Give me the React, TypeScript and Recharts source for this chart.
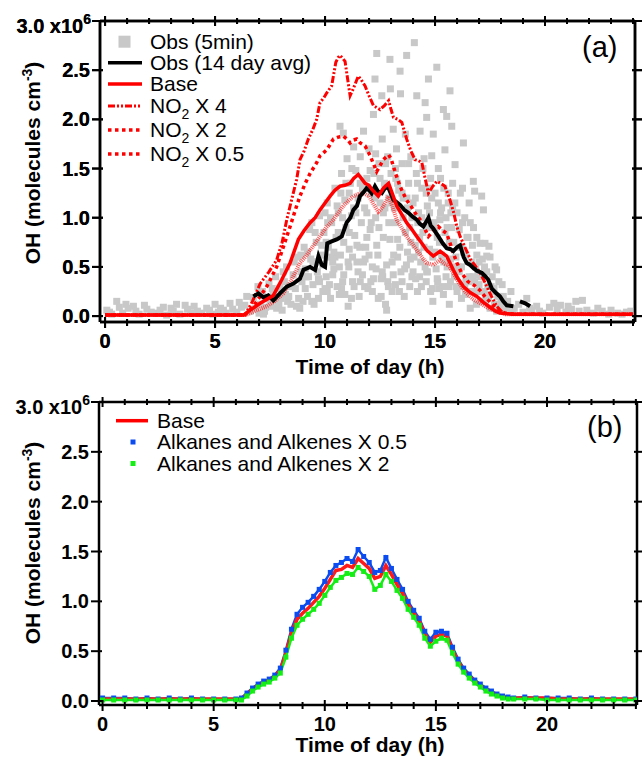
import React from 'react';
import { ComposedChart, Line, XAxis, YAxis } from 'recharts';

const FONT = '"Liberation Sans", Arial, Helvetica, sans-serif';

// x ticks every hour, labels every 5 h; y ticks every 0.5 x10^6
const hourTicks = [0, 1, 2, 3, 4, 5, 6, 7, 8, 9, 10, 11, 12, 13, 14, 15, 16, 17, 18, 19, 20, 21, 22, 23, 24];
const ohTicks = [0, 0.5, 1.0, 1.5, 2.0, 2.5, 3.0];

// ---- panel (a) ----
// Obs (5min), OH in 10^6 molecules cm-3
const obsTime = [
  0.08, 0.3, 0.53, 0.8, 1.05, 1.29, 1.55, 1.79, 2.1, 2.5, 2.8, 3.1, 3.4, 3.64, 3.9, 4.2, 4.62, 4.9, 5.15, 5.38, 5.68, 5.99, 6.2, 6.44, 6.6,
  6.74, 6.85, 6.95, 7.05, 7.15, 7.25, 7.35, 7.45, 7.55, 7.65, 7.75, 7.85, 7.95, 8.05, 8.15, 8.25, 8.35, 8.45, 8.55, 8.65, 8.75, 8.85, 8.95,
  9.05, 9.1, 9.2, 9.3, 9.35, 9.45, 9.5, 9.6, 9.65, 9.75, 9.8, 9.9, 9.95,
  10.05, 10.1, 10.15, 10.25, 10.3, 10.35, 10.45, 10.5, 10.55, 10.6, 10.68, 10.7, 10.75, 10.83, 10.85, 10.9, 10.95,
  11.0, 11.05, 11.1, 11.15, 11.2, 11.25, 11.3, 11.35, 11.4, 11.45, 11.5, 11.55, 11.6, 11.65, 11.7, 11.75, 11.8, 11.85, 11.9, 11.95,
  12.0, 12.05, 12.1, 12.15, 12.2, 12.27, 12.3, 12.35, 12.4, 12.42, 12.45, 12.5, 12.55, 12.58, 12.6, 12.65, 12.7, 12.75, 12.8, 12.85, 12.9, 12.95, 12.97,
  13.0, 13.05, 13.1, 13.15, 13.2, 13.25, 13.3, 13.35, 13.41, 13.43, 13.45, 13.5, 13.55, 13.6, 13.65, 13.71, 13.75, 13.8, 13.85, 13.9, 13.95,
  14.0, 14.06, 14.1, 14.15, 14.17, 14.2, 14.25, 14.32, 14.35, 14.4, 14.45, 14.5, 14.55, 14.6, 14.62, 14.65, 14.7, 14.75, 14.8, 14.85, 14.9, 14.92, 14.95,
  15.0, 15.05, 15.08, 15.1, 15.15, 15.2, 15.25, 15.3, 15.38, 15.4, 15.45, 15.5, 15.53, 15.55, 15.6, 15.65, 15.68, 15.7, 15.76, 15.8, 15.85, 15.91, 15.95,
  16.0, 16.05, 16.1, 16.15, 16.2, 16.29, 16.3, 16.35, 16.4, 16.5, 16.55, 16.6, 16.65, 16.74, 16.75, 16.8, 16.85, 16.9, 16.95,
  17.05, 17.1, 17.12, 17.2, 17.25, 17.27, 17.35, 17.4, 17.45, 17.5, 17.6, 17.73, 17.8, 17.85, 17.95,
  18.05, 18.2, 18.3, 18.45, 18.6, 18.8, 19.0, 19.17, 19.4, 19.62, 19.9, 20.2, 20.4, 20.7, 20.95, 21.2, 21.4, 21.7, 21.9, 22.2, 22.6, 22.9, 23.3, 23.7,
];
const obsOH = [
  0.06, 0.02, 0.15, 0.03, 0.08, 0.10, 0.02, 0.11, 0.04, 0.06, 0.01, 0.05, 0.02, 0.11, 0.03, 0.05, 0.08, 0.02, 0.04, 0.06, 0.13, 0.04, 0.09, 0.20, 0.05,
  0.19, 0.08, 0.30, 0.12, 0.25, 0.05, 0.18, 0.33, 0.10, 0.22, 0.40, 0.15, 0.28, 0.06, 0.35, 0.50, 0.20, 0.12, 0.42, 0.28, 0.60, 0.08, 0.35,
  0.70, 0.48, 0.20, 0.88, 0.58, 0.32, 0.12, 0.75, 0.45, 1.02, 0.62, 0.25, 0.85,
  0.40, 1.15, 0.70, 0.18, 0.95, 0.55, 1.30, 0.80, 0.30, 1.05, 1.93, 0.62, 1.45, 1.86, 0.42, 1.18, 0.90,
  1.60, 0.10, 0.68, 1.35, 1.02, 0.35, 1.72, 0.82, 1.48, 0.55, 1.20, 0.20, 1.62, 0.95, 0.42, 1.88, 1.10, 0.70, 1.40, 0.28,
  1.70, 0.88, 1.25, 0.50, 2.05, 2.41, 1.00, 2.67, 0.62, 0.18, 1.55, 1.15, 0.38, 2.24, 1.80, 0.80, 1.35, 0.12, 0.06, 1.62, 0.95, 2.61, 2.31,
  1.45, 0.55, 1.90, 1.10, 0.32, 1.70, 0.78, 1.28, 2.49, 2.26, 0.45, 1.55, 1.00, 0.20, 1.85, 2.65, 0.65, 1.35, 0.90, 1.62, 0.40,
  1.15, 2.78, 0.72, 1.45, 2.24, 0.25, 1.05, 1.88, 0.55, 1.30, 0.85, 1.60, 2.17, 0.35, 2.02, 1.12, 2.41, 0.68, 1.40, 1.63, 0.15, 1.85, 0.95,
  1.25, 0.48, 2.53, 0.80, 1.50, 0.28, 1.05, 0.62, 2.10, 1.30, 1.69, 0.40, 2.03, 0.90, 1.15, 0.12, 2.29, 0.58, 1.93, 1.35, 0.75, 1.54, 0.30,
  1.05, 0.50, 0.88, 1.25, 0.18, 1.76, 0.65, 1.00, 0.35, 0.80, 1.15, 0.08, 0.55, 1.37, 0.90, 1.27, 0.25, 0.62, 0.42,
  0.74, 0.15, 1.22, 1.08, 0.50, 0.74, 0.61, 0.30, 0.71, 0.08, 0.40, 0.50, 0.47, 0.20, 0.10,
  0.32, 0.05, 0.15, 0.25, 0.08, 0.12, 0.04, 0.18, 0.06, 0.10, 0.03, 0.09, 0.13, 0.11, 0.04, 0.07, 0.15, 0.16, 0.06, 0.03, 0.05, 0.02, 0.03, 0.04,
];
// more 5-min points in the dense part of the cloud
const obsTime2 = [
  0.2, 0.65, 0.95, 1.4, 1.9, 2.3, 2.65, 3.0, 3.25, 3.75, 4.05, 4.4, 4.75, 5.0, 5.25, 5.5, 5.8, 6.1, 6.35,
  7.0, 7.3, 7.6, 7.9, 8.2, 8.5, 8.8, 9.15, 9.4, 9.7, 10.0, 10.2, 10.4, 10.65, 10.8, 11.08, 11.32, 11.58, 11.82, 12.08, 12.32, 12.62,
  12.88, 13.12, 13.38, 13.62, 13.88, 14.12, 14.38, 14.62, 14.88, 15.12, 15.38, 15.62, 15.88, 16.12, 16.38, 16.62, 16.88, 17.15, 17.42, 17.68,
  9.55, 10.12, 10.72, 11.22, 11.72, 12.22, 12.72, 13.22, 13.72, 14.22, 14.72, 15.22, 15.72, 16.22, 16.72, 17.3,
  18.15, 18.5, 19.3, 19.75, 20.55, 21.05, 21.55, 22.4, 23.0, 23.5, 23.9,
];
const obsOH2 = [
  0.04, 0.09, 0.12, 0.05, 0.07, 0.03, 0.09, 0.08, 0.12, 0.07, 0.10, 0.03, 0.06, 0.12, 0.08, 0.03, 0.07, 0.14, 0.11,
  0.03, 0.09, 0.28, 0.12, 0.22, 0.30, 0.18, 0.40, 0.15, 0.38, 0.28, 0.60, 0.48, 0.22, 0.35, 0.50, 0.30, 0.70, 0.58, 0.35, 0.48, 0.40,
  0.30, 0.62, 0.25, 0.48, 0.58, 0.38, 0.30, 0.45, 0.28, 0.35, 0.22, 0.30, 0.40, 0.30, 0.22, 0.35, 0.12, 0.25, 0.18, 0.28,
  0.55, 0.95, 1.25, 1.50, 1.30, 1.45, 1.10, 1.40, 1.20, 0.95, 1.30, 0.98, 1.05, 0.70, 0.40, 0.22,
  0.12, 0.05, 0.08, 0.05, 0.07, 0.10, 0.05, 0.08, 0.06, 0.02, 0.05,
];
const obsTime3 = [
  7.2, 7.5, 7.8, 8.0, 8.1, 8.3, 8.6, 8.9, 9.0, 9.25, 9.4, 9.7, 9.85, 10.0, 10.2, 10.4, 10.6, 10.8, 10.9, 11.1, 11.25, 11.4, 11.6, 11.7, 11.9,
  12.05, 12.15, 12.3, 12.45, 12.6, 12.75, 12.9, 13.05, 13.2, 13.3, 13.5, 13.65, 13.8, 13.95, 14.05, 14.2, 14.3, 14.45, 14.55, 14.7, 14.85,
  15.0, 15.15, 15.25, 15.4, 15.5, 15.65, 15.8, 15.95, 16.1, 16.25, 16.4, 16.55, 16.7, 16.85, 17.0, 17.15, 17.3, 17.55, 17.7, 17.9, 18.1, 18.35,
];
const obsOH3 = [
  0.02, 0.15, 0.08, 0.18, 0.45, 0.15, 0.55, 0.62, 0.15, 0.40, 0.95, 0.18, 0.72, 1.05, 0.32, 0.65, 0.85, 1.00, 0.22, 1.25, 0.60, 1.05, 0.35, 1.30, 0.80,
  1.48, 0.25, 1.65, 0.90, 0.45, 1.55, 1.20, 0.25, 1.50, 0.60, 1.25, 0.85, 1.55, 1.00, 0.60, 1.35, 0.80, 1.50, 0.50, 0.90, 1.20,
  0.65, 1.15, 1.40, 0.55, 1.00, 0.75, 1.10, 0.60, 0.45, 0.95, 0.62, 0.40, 0.72, 0.50, 0.32, 0.58, 0.15, 0.30, 0.12, 0.35, 0.20, 0.06,
];
const obsTime4 = [
  8.4, 8.7, 8.9, 9.1, 9.2, 9.45, 9.55, 9.75, 9.9, 10.05, 10.1, 10.25, 10.35, 10.45, 10.55, 10.65, 10.75, 10.85, 10.95, 11.05, 11.1, 11.2,
  11.3, 11.45, 11.5, 11.6, 11.75, 11.8, 11.9, 12.0, 12.1, 12.2, 12.25, 12.35, 12.5, 12.55, 12.65, 12.8, 12.85, 12.95, 13.0, 13.1, 13.2,
  13.3, 13.4, 13.5, 13.55, 13.7, 13.75, 13.85, 13.9, 14.0, 14.1, 14.25, 14.3, 14.4, 14.5, 14.6, 14.65, 14.75, 14.8, 14.9, 15.0, 15.1,
  15.2, 15.3, 15.35, 15.45, 15.55, 15.6, 15.7, 15.75, 15.85, 15.9, 16.0, 16.1, 16.2, 16.25, 16.35, 16.45, 16.6, 16.65, 16.8, 16.9,
  17.0, 17.1, 17.2, 17.35, 17.5, 17.65, 17.8, 18.0,
];
const obsOH4 = [
  0.30, 0.10, 0.45, 0.28, 0.65, 0.55, 0.85, 0.35, 0.52, 0.75, 0.25, 1.00, 0.42, 0.60, 1.12, 0.50, 0.28, 0.75, 1.35, 0.55, 0.85, 0.18,
  1.10, 0.72, 0.45, 1.35, 0.55, 0.30, 1.05, 0.62, 0.95, 0.38, 1.20, 0.72, 1.40, 0.20, 1.05, 0.52, 0.35, 0.78, 1.15, 0.42, 0.95,
  1.35, 0.70, 0.35, 1.20, 0.52, 1.10, 0.30, 0.75, 0.45, 1.20, 0.65, 0.40, 1.00, 0.70, 1.25, 0.45, 1.05, 0.25, 0.60, 0.90, 0.38,
  0.75, 1.10, 0.30, 0.85, 0.50, 1.25, 0.35, 0.90, 0.50, 1.15, 0.25, 0.70, 0.50, 1.30, 0.30, 0.80, 0.95, 0.25, 0.35, 0.80,
  0.55, 0.40, 0.25, 0.45, 0.60, 0.25, 0.05, 0.15,
];

// Obs (14 day avg); null marks the gap near 18.7 h
const avgTime = [
  6.74, 6.97, 7.2, 7.42, 7.65, 7.95, 8.26, 8.56, 8.86, 9.02, 9.32, 9.55, 9.7, 9.85, 10.0, 10.1, 10.3, 10.53, 10.76, 10.98, 11.15, 11.29, 11.45,
  11.59, 11.75, 11.89, 12.05, 12.12, 12.27, 12.4, 12.58, 12.75, 12.89, 13.11, 13.25, 13.41, 13.6, 13.79, 13.98, 14.17, 14.3, 14.47, 14.6, 14.7,
  14.8, 14.92, 15.15, 15.35, 15.53, 15.7, 15.83, 16.0, 16.14, 16.3, 16.44, 16.6, 16.74, 16.9, 17.12, 17.3, 17.42, 17.58, 17.75, 17.95, 18.1,
  18.26, 18.56, 18.7, 18.86, 19.1, 19.32,
];
const avgOH = [
  0.20, 0.23, 0.19, 0.21, 0.16, 0.23, 0.30, 0.33, 0.38, 0.47, 0.50, 0.47, 0.61, 0.52, 0.50, 0.74, 0.76, 0.78, 0.81, 0.95, 1.00, 1.08, 1.12,
  1.22, 1.26, 1.30, 1.27, 1.25, 1.32, 1.27, 1.25, 1.31, 1.30, 1.18, 1.16, 1.13, 1.08, 1.05, 1.01, 0.98, 0.94, 0.91, 0.96, 1.00,
  0.92, 0.89, 0.81, 0.74, 0.69, 0.68, 0.66, 0.70, 0.72, 0.60, 0.54, 0.52, 0.49, 0.46, 0.44, 0.40, 0.37, 0.28, 0.24, 0.20, 0.15,
  0.11, 0.10, null, 0.15, 0.13, 0.10,
];

const baseTime = [0, 6.29, 6.6, 7.05, 7.35, 7.65, 8.03, 8.41, 8.79, 9.05, 9.32, 9.55, 9.77, 10.0, 10.23, 10.45, 10.68, 10.9, 11.14, 11.3, 11.51, 11.65, 11.82, 12.0, 12.12, 12.42, 12.65, 12.89, 13.05, 13.26, 13.5, 13.71, 13.95, 14.17, 14.4, 14.62, 14.92, 15.23, 15.53, 15.83, 16.05, 16.29, 16.6, 16.9, 17.2, 17.5, 17.75, 17.95, 18.5, 24];
const baseOH = [0.01, 0.01, 0.06, 0.13, 0.17, 0.21, 0.37, 0.54, 0.78, 0.87, 0.95, 1.00, 1.08, 1.15, 1.22, 1.28, 1.32, 1.33, 1.35, 1.40, 1.44, 1.40, 1.35, 1.33, 1.29, 1.22, 1.30, 1.35, 1.25, 1.12, 1.03, 0.95, 0.88, 0.81, 0.74, 0.67, 0.61, 0.66, 0.61, 0.47, 0.38, 0.30, 0.24, 0.20, 0.14, 0.09, 0.05, 0.03, 0.02, 0.02];

const no2x4Time = [0, 6.36, 6.7, 7.05, 7.45, 7.8, 8.05, 8.26, 8.5, 8.71, 8.86, 9.05, 9.24, 9.45, 9.62, 9.77, 9.95, 10.08, 10.3, 10.49, 10.6, 10.68, 10.8, 10.91, 11.02, 11.14, 11.3, 11.51, 11.65, 11.82, 12.0, 12.2, 12.5, 12.7, 12.89, 13.0, 13.11, 13.3, 13.49, 13.71, 13.9, 14.09, 14.25, 14.4, 14.55, 14.7, 14.9, 15.08, 15.25, 15.45, 15.68, 15.85, 15.99, 16.14, 16.36, 16.6, 16.8, 17.05, 17.25, 17.5, 17.8, 18.1, 18.5, 24];
const no2x4OH = [0.01, 0.01, 0.15, 0.33, 0.45, 0.57, 0.75, 0.98, 1.20, 1.39, 1.59, 1.68, 1.80, 1.90, 2.00, 2.17, 2.22, 2.27, 2.34, 2.58, 2.63, 2.65, 2.62, 2.59, 2.42, 2.24, 2.32, 2.44, 2.40, 2.34, 2.24, 2.14, 2.10, 2.14, 2.19, 2.10, 2.02, 2.00, 1.97, 1.80, 1.68, 1.59, 1.58, 1.56, 1.40, 1.25, 1.32, 1.37, 1.35, 1.32, 1.18, 1.05, 0.91, 0.81, 0.70, 0.58, 0.52, 0.44, 0.35, 0.23, 0.10, 0.03, 0.02, 0.02];

const no2x2Time = [0, 6.35, 6.73, 7.05, 7.35, 7.8, 8.1, 8.41, 8.65, 8.86, 9.1, 9.32, 9.62, 9.77, 10.08, 10.38, 10.6, 10.83, 11.0, 11.14, 11.3, 11.44, 11.6, 11.82, 12.05, 12.2, 12.35, 12.5, 12.65, 12.89, 13.0, 13.11, 13.25, 13.41, 13.55, 13.71, 13.9, 14.09, 14.25, 14.4, 14.55, 14.7, 14.9, 15.15, 15.35, 15.53, 15.7, 15.83, 16.0, 16.2, 16.5, 16.8, 17.05, 17.3, 17.6, 17.9, 18.2, 18.6, 24];
const no2x2OH = [0.01, 0.01, 0.10, 0.20, 0.30, 0.50, 0.70, 0.91, 1.08, 1.22, 1.35, 1.45, 1.56, 1.63, 1.69, 1.80, 1.82, 1.83, 1.80, 1.76, 1.79, 1.80, 1.76, 1.73, 1.63, 1.55, 1.47, 1.53, 1.59, 1.64, 1.60, 1.52, 1.42, 1.32, 1.25, 1.18, 1.12, 1.05, 1.00, 0.96, 0.88, 0.81, 0.86, 0.91, 0.87, 0.84, 0.73, 0.64, 0.54, 0.44, 0.35, 0.31, 0.26, 0.19, 0.12, 0.05, 0.03, 0.02, 0.02];

const no2x05Time = [0, 6.4, 6.9, 7.35, 7.7, 8.1, 8.5, 8.86, 9.1, 9.32, 9.55, 9.77, 10.05, 10.38, 10.6, 10.83, 11.05, 11.29, 11.5, 11.74, 12.0, 12.2, 12.42, 12.6, 12.73, 12.89, 13.05, 13.26, 13.5, 13.71, 13.95, 14.17, 14.4, 14.62, 14.92, 15.23, 15.45, 15.6, 15.8, 16.0, 16.2, 16.44, 16.75, 17.05, 17.35, 17.65, 17.9, 18.2, 24];
const no2x05OH = [0.01, 0.01, 0.06, 0.10, 0.15, 0.23, 0.38, 0.54, 0.60, 0.67, 0.74, 0.81, 0.90, 0.98, 1.05, 1.12, 1.17, 1.22, 1.24, 1.25, 1.22, 1.14, 1.06, 1.10, 1.15, 1.22, 1.12, 0.98, 0.89, 0.81, 0.74, 0.67, 0.60, 0.54, 0.52, 0.57, 0.53, 0.52, 0.45, 0.37, 0.30, 0.23, 0.17, 0.13, 0.09, 0.06, 0.04, 0.02, 0.02];

// ---- panel (b) ----
const hcTime = [
  0, 0.5, 1, 1.5, 2, 2.5, 3, 3.5, 4, 4.5, 5, 5.5, 6, 6.25, 6.5, 6.75, 7, 7.25, 7.5, 7.75, 8, 8.25, 8.5, 8.75, 9, 9.25, 9.5, 9.75,
  10, 10.25, 10.5, 10.75, 11, 11.25, 11.5, 11.75, 12, 12.25, 12.5, 12.75, 13, 13.25, 13.5, 13.75, 14, 14.25, 14.5, 14.75,
  15, 15.25, 15.5, 15.75, 16, 16.25, 16.5, 16.75, 17, 17.25, 17.5, 17.75, 18, 18.25, 18.5, 19, 19.5, 20, 20.5, 21, 21.5, 22, 22.5, 23, 23.5, 24,
];
const hcBase = [
  0.02, 0.02, 0.02, 0.02, 0.02, 0.02, 0.02, 0.02, 0.02, 0.02, 0.02, 0.02, 0.02, 0.02, 0.07, 0.12, 0.16, 0.19, 0.21, 0.25, 0.31, 0.48, 0.68, 0.82, 0.88, 0.93, 0.99, 1.05,
  1.13, 1.22, 1.31, 1.32, 1.36, 1.34, 1.43, 1.38, 1.33, 1.23, 1.25, 1.36, 1.27, 1.17, 1.08, 0.97, 0.88, 0.80, 0.67, 0.59,
  0.65, 0.67, 0.65, 0.51, 0.40, 0.31, 0.25, 0.20, 0.16, 0.12, 0.09, 0.06, 0.04, 0.03, 0.03, 0.03, 0.03, 0.03, 0.02, 0.02, 0.02, 0.02, 0.02, 0.02, 0.02, 0.02,
];
const hcHalf = [
  0.03, 0.03, 0.03, 0.02, 0.03, 0.02, 0.03, 0.02, 0.03, 0.02, 0.02, 0.02, 0.02, 0.03, 0.08, 0.13, 0.17, 0.20, 0.22, 0.26, 0.33, 0.51, 0.72, 0.87, 0.94, 0.99, 1.05, 1.12,
  1.20, 1.29, 1.36, 1.39, 1.43, 1.40, 1.52, 1.45, 1.39, 1.29, 1.31, 1.44, 1.33, 1.22, 1.12, 1.00, 0.91, 0.83, 0.70, 0.62,
  0.69, 0.70, 0.68, 0.54, 0.42, 0.33, 0.27, 0.21, 0.17, 0.13, 0.10, 0.07, 0.05, 0.04, 0.03, 0.04, 0.03, 0.03, 0.03, 0.03, 0.02, 0.03, 0.02, 0.02, 0.02, 0.02,
];
const hcDouble = [
  0.01, 0.01, 0.01, 0.01, 0.01, 0.01, 0.01, 0.01, 0.01, 0.01, 0.01, 0.01, 0.01, 0.01, 0.05, 0.10, 0.14, 0.17, 0.19, 0.23, 0.28, 0.44, 0.63, 0.76, 0.82, 0.87, 0.92, 0.98,
  1.06, 1.14, 1.21, 1.24, 1.28, 1.27, 1.34, 1.30, 1.25, 1.12, 1.16, 1.27, 1.20, 1.11, 1.03, 0.92, 0.84, 0.76, 0.63, 0.55,
  0.60, 0.63, 0.61, 0.48, 0.37, 0.29, 0.23, 0.18, 0.14, 0.10, 0.07, 0.05, 0.03, 0.02, 0.02, 0.02, 0.02, 0.01, 0.01, 0.01, 0.01, 0.01, 0.01, 0.01, 0.01, 0.01,
];

const pts = (xs: number[], ys: (number | null)[]) => xs.map((x, i) => ({ x, y: ys[i] }));

const tickFont = { fontFamily: FONT, fontWeight: 700, fontSize: 20, fill: '#000' };

const BottomTick = (p: any) => {
  const v = p.payload.value;
  const major = v % 5 === 0;
  return (
    <g>
      <line x1={p.x} x2={p.x} y1={p.y - (major ? 5 : 3)} y2={p.y + (major ? 6 : 4)} stroke="#000" strokeWidth={2} />
      {major && v < 24 && (
        <text x={p.x} y={p.y + 26} textAnchor="middle" {...tickFont}>{v}</text>
      )}
    </g>
  );
};

const TopTick = (p: any) => {
  const major = p.payload.value % 5 === 0;
  return <line x1={p.x} x2={p.x} y1={p.y - (major ? 5 : 3)} y2={p.y + (major ? 5 : 3)} stroke="#000" strokeWidth={2} />;
};

const LeftTick = (p: any) => {
  const v = p.payload.value;
  return (
    <g>
      <line x1={p.x - 8} x2={p.x + 3} y1={p.y} y2={p.y} stroke="#000" strokeWidth={2} />
      {v === 3 ? (
        <text x={p.x - 9} y={p.y + 12} textAnchor="end" {...tickFont}>
          3.0 x10<tspan dy={-9} fontSize={14}>6</tspan>
        </text>
      ) : (
        <text x={p.x - 10} y={p.y + 7} textAnchor="end" {...tickFont}>{v.toFixed(1)}</text>
      )}
    </g>
  );
};

const RightTick = (p: any) => (
  <line x1={p.x - 3} x2={p.x + 7} y1={p.y} y2={p.y} stroke="#000" strokeWidth={2} />
);

const GreySquare = (p: any) => <rect key={p.index} x={p.cx - 3.5} y={p.cy - 3.5} width={7} height={7} fill="#c8c8c8" />;
const BlueSquare = (p: any) => <rect key={p.index} x={p.cx - 2.5} y={p.cy - 2.5} width={5} height={5} fill="#0a4cf0" />;
const GreenSquare = (p: any) => <rect key={p.index} x={p.cx - 2.5} y={p.cy - 2.5} width={5} height={5} fill="#14ee14" />;

// box frame: ticks on all four sides; axes are 1px wide so they still render
function frame(xDomain: number[], yDomain: number[]) {
  const axisLine = { stroke: '#000', strokeWidth: 2.5 };
  return [
    <XAxis key="xb" xAxisId="b" type="number" dataKey="x" domain={xDomain} allowDataOverflow ticks={hourTicks} interval={0}
      tickSize={0} tickMargin={0} height={1} axisLine={axisLine} tickLine={false} tick={<BottomTick />} />,
    <XAxis key="xt" xAxisId="t" orientation="top" type="number" dataKey="x" domain={xDomain} allowDataOverflow ticks={hourTicks} interval={0}
      tickSize={0} tickMargin={0} height={1} axisLine={axisLine} tickLine={false} tick={<TopTick />} />,
    <YAxis key="yl" yAxisId="l" type="number" dataKey="y" domain={yDomain} allowDataOverflow ticks={ohTicks} interval={0}
      tickSize={0} tickMargin={0} width={1} axisLine={axisLine} tickLine={false} tick={<LeftTick />} />,
    <YAxis key="yr" yAxisId="r" orientation="right" type="number" dataKey="y" domain={yDomain} allowDataOverflow ticks={ohTicks} interval={0}
      tickSize={0} tickMargin={0} width={1} axisLine={axisLine} tickLine={false} tick={<RightTick />} />,
  ];
}

const Sub = ({ children }: { children: React.ReactNode }) => <tspan dy={6} fontSize={14}>{children}</tspan>;

const marginA = { top: 20, right: 6, bottom: 57, left: 99 };
const domainXA = [-0.23, 24.09];
const domainYA = [-0.06, 3.0];

export default function App() {
  const legendText = { fontFamily: FONT, fontSize: 21, fill: '#000' };
  const titleText = { fontFamily: FONT, fontSize: 21, fontWeight: 700, fill: '#000' };
  const abs = { position: 'absolute' as const, top: 0, left: 0 };
  return (
    <div style={{ ...abs, width: 642, height: 762, background: '#fff' }}>
      {/* obs squares sit in their own chart underneath, so every line is drawn over them */}
      <div style={abs}>
        <ComposedChart width={642} height={380} margin={marginA}>
          {frame(domainXA, domainYA)}
          <Line xAxisId="b" yAxisId="l" data={pts(obsTime4, obsOH4)} dataKey="y" stroke="none" dot={<GreySquare />} isAnimationActive={false} />
          <Line xAxisId="b" yAxisId="l" data={pts(obsTime3, obsOH3)} dataKey="y" stroke="none" dot={<GreySquare />} isAnimationActive={false} />
          <Line xAxisId="b" yAxisId="l" data={pts(obsTime2, obsOH2)} dataKey="y" stroke="none" dot={<GreySquare />} isAnimationActive={false} />
          <Line xAxisId="b" yAxisId="l" data={pts(obsTime, obsOH)} dataKey="y" stroke="none" dot={<GreySquare />} isAnimationActive={false} />
        </ComposedChart>
      </div>
      <div style={abs}>
        <ComposedChart width={642} height={380} margin={marginA}>
          {frame(domainXA, domainYA)}
          <Line xAxisId="b" yAxisId="l" data={pts(no2x05Time, no2x05OH)} dataKey="y" stroke="#ff2020" strokeWidth={4} strokeDasharray="1 1" strokeOpacity={0.75} dot={false} isAnimationActive={false} />
          <Line xAxisId="b" yAxisId="l" data={pts(no2x2Time, no2x2OH)} dataKey="y" stroke="#ff0000" strokeWidth={3.5} strokeDasharray="3.5 3.5" dot={false} isAnimationActive={false} />
          <Line xAxisId="b" yAxisId="l" data={pts(no2x4Time, no2x4OH)} dataKey="y" stroke="#ff0000" strokeWidth={3} strokeDasharray="7 2 2 2 2 2" dot={false} isAnimationActive={false} />
          <Line xAxisId="b" yAxisId="l" data={pts(avgTime, avgOH)} dataKey="y" stroke="#000" strokeWidth={4} dot={false} isAnimationActive={false} />
          <Line xAxisId="b" yAxisId="l" data={pts(baseTime, baseOH)} dataKey="y" stroke="#ff0000" strokeWidth={3.5} dot={false} isAnimationActive={false} />
        </ComposedChart>
      </div>
      <div style={{ ...abs, top: 380 }}>
        <ComposedChart width={642} height={382} margin={{ top: 21, right: 4, bottom: 56, left: 98 }}>
          {frame([-0.16, 24.05], [-0.04, 3.0])}
          <Line xAxisId="b" yAxisId="l" data={pts(hcTime, hcHalf)} dataKey="y" stroke="#0a4cf0" strokeWidth={2.5} dot={<BlueSquare />} isAnimationActive={false} />
          <Line xAxisId="b" yAxisId="l" data={pts(hcTime, hcBase)} dataKey="y" stroke="#ff1a1a" strokeWidth={3.5} dot={false} isAnimationActive={false} />
          <Line xAxisId="b" yAxisId="l" data={pts(hcTime, hcDouble)} dataKey="y" stroke="#14ee14" strokeWidth={2.5} dot={<GreenSquare />} isAnimationActive={false} />
        </ComposedChart>
      </div>
      <svg width={642} height={762} style={{ ...abs, pointerEvents: 'none' }}>
        {/* panel (a) legend */}
        <rect x={118.5} y={35.7} width={12} height={12} fill="#c8c8c8" />
        <text x={150} y={48.5} {...legendText}>Obs (5min)</text>
        <line x1={108} x2={142} y1={62.7} y2={62.7} stroke="#000" strokeWidth={3.5} />
        <text x={150} y={69.5} {...legendText}>Obs (14 day avg)</text>
        <line x1={108} x2={142} y1={84} y2={84} stroke="#ff0000" strokeWidth={3.5} />
        <text x={150} y={91} {...legendText}>Base</text>
        <line x1={108} x2={142} y1={106} y2={106} stroke="#ff0000" strokeWidth={3} strokeDasharray="7 2 2 2 2 2" />
        <text x={150} y={113} {...legendText}>NO<Sub>2</Sub><tspan dy={-6}> X 4</tspan></text>
        <line x1={108} x2={142} y1={130} y2={130} stroke="#ff0000" strokeWidth={3.5} strokeDasharray="3.5 3.5" />
        <text x={150} y={137} {...legendText}>NO<Sub>2</Sub><tspan dy={-6}> X 2</tspan></text>
        <line x1={108} x2={142} y1={154} y2={154} stroke="#ff0000" strokeWidth={3.5} strokeDasharray="3.5 3.5" />
        <text x={150} y={161} {...legendText}>NO<Sub>2</Sub><tspan dy={-6}> X 0.5</tspan></text>
        <text x={582} y={57} fontFamily={FONT} fontSize={29} fill="#000">(a)</text>
        <text transform="translate(40,163) rotate(-90)" textAnchor="middle" {...titleText}>
          OH (molecules cm<tspan dy={-8} fontSize={14}>-3</tspan><tspan dy={8}>)</tspan>
        </text>
        <text x={370} y={374} textAnchor="middle" {...titleText}>Time of day (h)</text>

        {/* panel (b) legend */}
        <line x1={116} x2={148} y1={420.7} y2={420.7} stroke="#ff0000" strokeWidth={3.5} />
        <text x={157} y={428} {...legendText}>Base</text>
        <rect x={130.5} y={439.5} width={5} height={5} fill="#0a4cf0" />
        <text x={157} y={449} {...legendText}>Alkanes and Alkenes X 0.5</text>
        <rect x={130.5} y={461} width={5} height={5} fill="#14ee14" />
        <text x={157} y={470.5} {...legendText}>Alkanes and Alkenes X 2</text>
        <text x={587} y={437} fontFamily={FONT} fontSize={29} fill="#000">(b)</text>
        <text transform="translate(40,543) rotate(-90)" textAnchor="middle" {...titleText}>
          OH (molecules cm<tspan dy={-8} fontSize={14}>-3</tspan><tspan dy={8}>)</tspan>
        </text>
        <text x={370} y={752} textAnchor="middle" {...titleText}>Time of day (h)</text>
      </svg>
    </div>
  );
}
